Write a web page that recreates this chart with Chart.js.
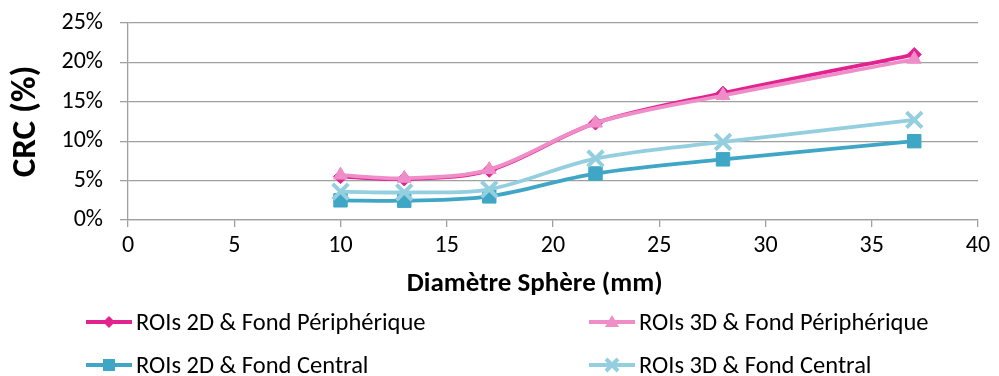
<!DOCTYPE html>
<html>
<head>
<meta charset="utf-8">
<script src="https://cdn.jsdelivr.net/npm/chart.js@4"></script>
<style>
    html, body { margin: 0; padding: 0; background: #fff; }
    #wrap { position: relative; width: 999px; height: 376px; overflow: hidden; }
    #graphe { position: absolute; left: 0; top: 0; }
    .leg {
        position: absolute; height: 30px; display: flex; align-items: center;
        font-family: Carlito, Lato, sans-serif; font-size: 24.5px; color: #000; white-space: nowrap;
    }
    .leg svg { margin-right: 4px; }
</style>
</head>
<body>
<div id="wrap">
    <canvas id="graphe" width="999" height="376"></canvas>
</div>
<script>
    // Données (CRC en %)
    const diametres = [10, 13, 17, 22, 28, 37];
    const roi2dPeriph = [5.5, 5.2, 6.3, 12.3, 16.1, 21.0];
    const roi3dPeriph = [5.7, 5.3, 6.4, 12.3, 15.8, 20.4];
    const roi2dCentral = [2.5, 2.45, 3.0, 5.9, 7.7, 10.0];
    const roi3dCentral = [3.6, 3.5, 3.9, 7.8, 9.9, 12.7];

    const nomsSeries = [
        'ROIs 2D & Fond Périphérique',
        'ROIs 3D & Fond Périphérique',
        'ROIs 2D & Fond Central',
        'ROIs 3D & Fond Central'
    ];
    const valeursSeries = [roi2dPeriph, roi3dPeriph, roi2dCentral, roi3dCentral];
    const couleurs = ['#E2228F', '#EF8DC9', '#3FA6C6', '#93CFDE'];
    const marqueurs = ['rectRot', 'triangle', 'rect', 'crossRot'];
    const taillesMarqueurs = [7, 8, 9.5, 11];

    const policeTexte = 'Carlito, Lato, sans-serif';
    const gris = '#A0A0A0';

    const datasets = valeursSeries.map((vals, i) => ({
        label: nomsSeries[i],
        data: diametres.map((d, j) => ({ x: d, y: vals[j] })),
        borderColor: couleurs[i],
        backgroundColor: couleurs[i],
        borderWidth: 3.8,
        pointStyle: marqueurs[i],
        pointRadius: taillesMarqueurs[i],
        pointBorderWidth: marqueurs[i] === 'crossRot' ? 4 : 1,
        pointBorderColor: couleurs[i],
        pointBackgroundColor: couleurs[i],
        tension: 0.33,
        fill: false,
        order: 4 - i // la dernière série dessinée par-dessus
    }));

    new Chart(document.getElementById('graphe'), {
        type: 'line',
        data: { datasets: datasets },
        options: {
            responsive: false,
            animation: false,
            devicePixelRatio: 1,
            layout: { padding: { top: 23, right: 21, bottom: 76, left: 0 } },
            plugins: {
                legend: { display: false },
                tooltip: { enabled: false }
            },
            scales: {
                x: {
                    type: 'linear',
                    min: 0,
                    max: 40,
                    ticks: {
                        stepSize: 5,
                        color: '#000',
                        padding: 5,
                        maxRotation: 0,
                        font: { family: policeTexte, size: 24 }
                    },
                    grid: { drawOnChartArea: false, tickLength: 7, color: gris, lineWidth: 1.3 },
                    border: { color: gris, width: 1.3 },
                    title: {
                        display: true,
                        // espaces de fin : décale le titre un peu à gauche comme sur l'original
                        text: 'Diamètre Sphère (mm)\u00a0\u00a0\u00a0\u00a0\u00a0\u00a0',
                        color: '#000',
                        padding: { top: 0, bottom: 0 },
                        font: { family: policeTexte, size: 27, weight: 'bold' }
                    },
                    afterFit: s => { s.height = 80; s.paddingLeft = 0; s.paddingRight = 0; }
                },
                y: {
                    min: 0,
                    max: 25,
                    ticks: {
                        stepSize: 5,
                        color: '#000',
                        padding: 17,
                        callback: v => v + '%',
                        font: { family: policeTexte, size: 24 }
                    },
                    grid: { tickLength: 8, color: gris, lineWidth: 1.3 },
                    border: { color: gris, width: 1.3 },
                    title: {
                        display: true,
                        text: 'CRC (%)',
                        color: '#000',
                        padding: { top: 5, bottom: 0 },
                        font: { family: policeTexte, size: 35, weight: 'bold' }
                    },
                    afterFit: s => { s.width = 128; s.paddingTop = 0; s.paddingBottom = 0; }
                }
            }
        }
    });

    // Légende en HTML, 2 colonnes
    const posLegende = [[86, 307], [589, 307], [86, 350], [589, 350]];

    function iconeSvg(i) {
        const c = couleurs[i];
        let m = '';
        if (marqueurs[i] === 'rectRot') m = `<polygon points="23,6 29,12 23,18 17,12" fill="${c}"/>`;
        if (marqueurs[i] === 'triangle') m = `<polygon points="23,5 30,17 16,17" fill="${c}"/>`;
        if (marqueurs[i] === 'rect') m = `<rect x="17" y="6" width="12" height="12" fill="${c}"/>`;
        if (marqueurs[i] === 'crossRot') m = `<path d="M17,6 L29,18 M29,6 L17,18" stroke="${c}" stroke-width="4"/>`;
        return `<svg width="46" height="24"><line x1="0" y1="12" x2="46" y2="12" stroke="${c}" stroke-width="4"/>${m}</svg>`;
    }

    const wrap = document.getElementById('wrap');
    nomsSeries.forEach((nom, i) => {
        const d = document.createElement('div');
        d.className = 'leg';
        d.style.left = posLegende[i][0] + 'px';
        d.style.top = posLegende[i][1] + 'px';
        d.innerHTML = iconeSvg(i) + '<span>' + nom + '</span>';
        wrap.appendChild(d);
    });
</script>
</body>
</html>
